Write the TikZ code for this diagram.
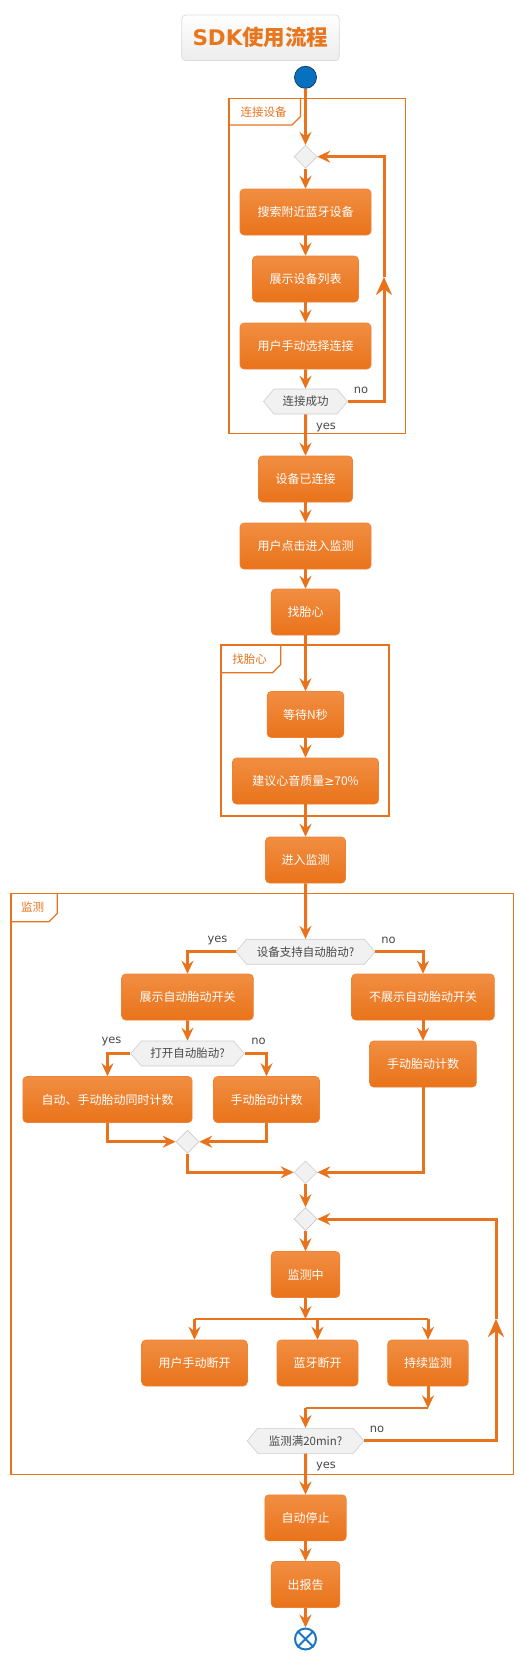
\documentclass[tikz,border=0pt]{standalone}
\usepackage{fontspec}
\setmainfont{DejaVu Sans}
\newfontfamily\cjk{Noto Sans CJK SC}
\usetikzlibrary{arrows.meta,shapes.symbols,shapes.geometric}
\definecolor{lc}{RGB}{232,115,28}
\definecolor{btop}{RGB}{241,142,66}
\definecolor{bbot}{RGB}{233,115,26}
\definecolor{bdraw}{RGB}{238,130,50}
\definecolor{hexfill}{RGB}{241,241,241}
\definecolor{hexdraw}{RGB}{205,205,205}
\definecolor{txtgray}{RGB}{72,72,72}
\definecolor{startblue}{RGB}{8,112,192}
\definecolor{startdark}{RGB}{30,60,90}
\definecolor{endblue}{RGB}{28,118,196}
\definecolor{titledraw}{RGB}{222,222,222}
\definecolor{titlebot}{RGB}{236,236,236}
\definecolor{titleor}{RGB}{232,118,30}
\tikzset{
  box/.style={rectangle, rounded corners=4pt, draw=bdraw, line width=0.6pt,
    top color=btop, bottom color=bbot, text=white,
    font=\cjk\fontsize{12}{14}\selectfont, minimum height=46pt, inner sep=0pt},
  hexa/.style={signal, signal to=west and east, signal pointer angle=100,
    fill=hexfill, draw=hexdraw, line width=0.6pt, minimum height=25pt,
    inner sep=0pt, text=txtgray, font=\cjk\fontsize{11.5}{13}\selectfont},
  dia/.style={diamond, fill=hexfill, draw=hexdraw, line width=0.6pt,
    minimum width=23pt, minimum height=23pt, inner sep=0pt},
  flow/.style={draw=lc, line width=3pt,
    -{Stealth[length=13pt,width=12pt,inset=4.5pt]}},
  midflow/.style={draw=lc, line width=3pt,
    -{Stealth[length=18pt,width=16pt,inset=6pt]}},
  bar/.style={draw=lc, line width=2pt},
  part/.style={draw=lc, line width=1.3pt},
  plbl/.style={text=lc, font=\cjk\fontsize{11.5}{13}\selectfont, inner sep=0pt},
  lbl/.style={text=txtgray, font=\fontsize{11.5}{13}\selectfont, inner sep=0pt},
}
\begin{document}
\begin{tikzpicture}[x=1pt,y=-1pt]
\useasboundingbox (0,0) rectangle (522,1659);
% title
\node[rectangle, rounded corners=4pt, draw=titledraw, line width=0.8pt,
  top color=white, bottom color=titlebot, minimum width=157.6pt,
  minimum height=45.7pt, inner sep=0pt, text=titleor,
  font=\bfseries\fontsize{21.5}{25}\selectfont] (title) at (260.5,37.8)
  {SDK{\cjk\bfseries 使用流程}};
% start
\node[circle, fill=startblue, draw=startdark, line width=0.8pt,
  minimum size=22pt, inner sep=0pt] (start) at (305.5,77.3) {};
% partition 1
\draw[part] (229,98.3) rectangle (405.7,433.3);
\draw[part] (229,125) -- (292,125) -- (300.5,116.5) -- (300.5,98.3);
\node[plbl] (p1) at (263.5,111.7) {连接设备};
\node[dia] (d1) at (305.5,156.7) {};
\node[box, minimum width=131pt] (a1) at (305.5,212) {搜索附近蓝牙设备};
\node[box, minimum width=106pt] (a2) at (305.5,279) {展示设备列表};
\node[box, minimum width=131pt] (a3) at (305.5,346) {用户手动选择连接};
\node[hexa, minimum width=84pt] (h1) at (305.5,401.5) {连接成功};
\draw[flow] (start) -- (d1);
\draw[flow] (d1) -- (a1);
\draw[flow] (a1) -- (a2);
\draw[flow] (a2) -- (a3);
\draw[flow] (a3) -- (h1);
\coordinate (r1) at (384,277);
\draw[midflow] (h1.east) -- (h1.east -| r1) -- (r1);
\draw[flow] (r1) -- (d1.east -| r1) -- (d1.east);
\node[lbl] (no1) at (361,390) {no};
\node[lbl] (yes1) at (326,427) {yes};
% middle
\node[box, minimum width=94pt] (a4) at (305.5,479) {设备已连接};
\node[box, minimum width=131pt] (a5) at (305.5,546) {用户点击进入监测};
\node[box, minimum width=68.6pt] (a6) at (305.5,612) {找胎心};
\draw[flow] (h1) -- (a4);
\draw[flow] (a4) -- (a5);
\draw[flow] (a5) -- (a6);
% partition 2
\draw[part] (221,645) rectangle (389,816);
\draw[part] (221,672.7) -- (272.5,672.7) -- (280.7,664.5) -- (280.7,645);
\node[plbl] (p2) at (249.5,659.3) {找胎心};
\node[box, minimum width=76.6pt] (a7) at (305.5,714.5) {等待N秒};
\node[box, minimum width=146pt] (a8) at (305.5,781) {建议心音质量{\rmfamily ≥}70\%};
\node[box, minimum width=80pt] (a9) at (305.5,860) {进入监测};
\draw[flow] (a6) -- (a7);
\draw[flow] (a7) -- (a8);
\draw[flow] (a8) -- (a9);
% partition 3
\draw[part] (11,893.3) rectangle (513.3,1474.3);
\draw[part] (11,921.7) -- (49,921.7) -- (57.3,913.4) -- (57.3,893.3);
\node[plbl] (p3) at (32.5,906.7) {监测};
\node[hexa, minimum width=139pt] (h2) at (305.5,951.7) {设备支持自动胎动?};
\node[box, minimum width=131.6pt] (b1) at (187.5,997) {展示自动胎动开关};
\node[box, minimum width=142.6pt] (b2) at (423,997) {不展示自动胎动开关};
\node[hexa, minimum width=113.3pt] (h3) at (187.5,1053.5) {打开自动胎动?};
\node[box, minimum width=106.7pt] (b3) at (423,1064) {手动胎动计数};
\node[box, minimum width=169.3pt] (b4) at (107.5,1099.5) {自动、手动胎动同时计数};
\node[box, minimum width=106pt] (b5) at (266.5,1099.5) {手动胎动计数};
\node[dia] (d2) at (187.5,1141.7) {};
\node[dia] (d3) at (305.5,1172.3) {};
\node[dia] (d4) at (305.5,1219) {};
\node[box, minimum width=68.6pt] (b6) at (305.5,1274.5) {监测中};
\node[box, minimum width=105.6pt] (b7) at (194.5,1363) {用户手动断开};
\node[box, minimum width=81pt] (b8) at (317.5,1363) {蓝牙断开};
\node[box, minimum width=80.6pt] (b9) at (428,1363) {持续监测};
\node[hexa, minimum width=116.6pt] (h4) at (305.5,1440.8) {监测满20min?};
\draw[flow] (a9) -- (h2);
\draw[flow] (h2.west) -| (b1.north);
\draw[flow] (h2.east) -| (b2.north);
\node[lbl] (yes2) at (217.5,940) {yes};
\node[lbl] (no2) at (388.5,940) {no};
\draw[flow] (b1) -- (h3);
\draw[flow] (b2) -- (b3);
\draw[flow] (h3.west) -| (b4.north);
\draw[flow] (h3.east) -| (b5.north);
\node[lbl] (yes3) at (111.5,1041.7) {yes};
\node[lbl] (no3) at (258.5,1041.7) {no};
\draw[flow] (b4.south) |- (d2.west);
\draw[flow] (b5.south) |- (d2.east);
\draw[flow] (d2.south) |- (d3.west);
\draw[flow] (b3.south) |- (d3.east);
\draw[flow] (d3) -- (d4);
\draw[flow] (d4) -- (b6);
\coordinate (fk) at (305.5,1319);
\draw[bar] (fk -| b7) -- (fk -| b9);
\draw[flow] (b6) -- (fk);
\draw[flow] (fk -| b7) -- (b7.north);
\draw[flow] (fk -| b8) -- (b8.north);
\draw[flow] (fk -| b9) -- (b9.north);
\coordinate (jn) at (305.5,1408.3);
\draw[flow] (b9.south) -- (b9 |- jn);
\draw[bar] (b9 |- jn) -- (jn);
\draw[flow] (jn) -- (h4.north);
\coordinate (r2) at (496,1319);
\draw[midflow] (h4.east) -- (h4.east -| r2) -- (r2);
\draw[flow] (r2) -- (d4.east -| r2) -- (d4.east);
\node[lbl] (no4) at (377,1429) {no};
\node[lbl] (yes4) at (326,1466) {yes};
% end part
\node[box, minimum width=81.4pt] (b10) at (305.5,1517.8) {自动停止};
\node[box, minimum width=68.6pt] (b11) at (305.5,1584.5) {出报告};
\node[circle, draw=endblue, fill=white, line width=2pt, minimum size=21pt,
  inner sep=0pt] (end) at (305.5,1639) {};
\draw[endblue, line width=2pt] (end.north east) -- (end.south west)
  (end.north west) -- (end.south east);
\draw[flow] (h4) -- (b10);
\draw[flow] (b10) -- (b11);
\draw[flow] (b11) -- (end);
\end{tikzpicture}
\end{document}
